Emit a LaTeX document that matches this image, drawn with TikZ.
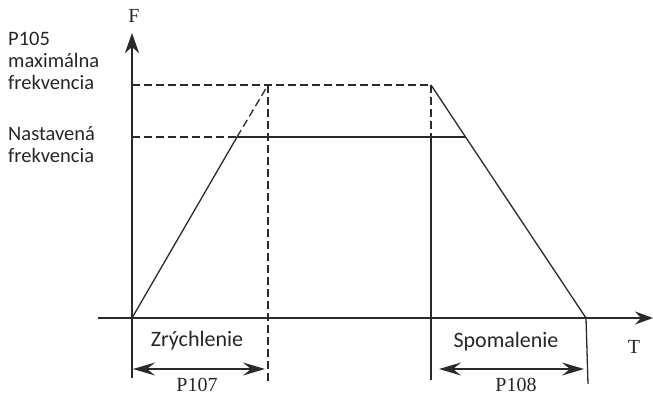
\documentclass[tikz,border=0pt]{standalone}
\usepackage{fontspec}
\setmainfont{Liberation Serif}
\newfontfamily\lblfont{Carlito}
\usetikzlibrary{arrows.meta}
\definecolor{ln}{HTML}{2A2A2A}
\tikzset{
  ax/.style={draw=ln, line width=1.5pt},
  thin/.style={draw=ln, line width=1.3pt},
  dsh/.style={draw=ln, line width=1.3pt, dash pattern=on 8pt off 4pt},
  dim/.style={draw=ln, line width=1.3pt, {Stealth[length=22pt,width=13pt,inset=8pt]}-{Stealth[length=22pt,width=13pt,inset=8pt]}},
  sl/.style={font=\lblfont\fontsize{20.5}{22}\selectfont, anchor=base west, inner sep=0pt, text=black!85},
  bl/.style={font=\lblfont\fontsize{22}{24}\selectfont, anchor=base, inner sep=0pt, text=black!85},
  sr/.style={font=\fontsize{20}{22}\selectfont, anchor=base, inner sep=0pt, text=black!85},
}
\begin{document}
\begin{tikzpicture}[x=1pt, y=-1pt]
\useasboundingbox (0,0) rectangle (653,394);
% key points
\coordinate (O) at (132,318);
\coordinate (Ybot) at (132,378);
\coordinate (Ytop) at (132,33);
\coordinate (Xl) at (98,318);
\coordinate (Xr) at (653,318);
\coordinate (M1) at (268,85);
\coordinate (M2) at (431,85);
\coordinate (Ymax) at (132,85);
\coordinate (Yset) at (132,137);
\coordinate (S1) at (237,137);
\coordinate (S2) at (466,137);
\coordinate (E) at (586,318);
\coordinate (V1b) at (268,383);
\coordinate (V2s) at (431,137);
\coordinate (V2b) at (431,380);
\coordinate (V3b) at (588,384);
\coordinate (A1l) at (133,369);
\coordinate (A1r) at (265,369);
\coordinate (A2l) at (439,369);
\coordinate (A2r) at (584,369);
% axes
\draw[ax, -{Stealth[length=20pt,width=14pt,inset=6pt]}] (Ybot) -- (Ytop);
\draw[ax, -{Stealth[length=18pt,width=13pt,inset=6pt]}] (Xl) -- (Xr);
% dashed guides
\draw[dsh] (Ymax) -- (M2);
\draw[dsh] (Yset) -- (S1);
\draw[dsh] (S1) -- (M1);
\draw[dsh] (M1) -- (V1b);
\draw[dsh] (M2) -- (V2s);
% solid profile
\draw[thin] (O) -- (S1);
\draw[thin] (S1) -- (S2);
\draw[thin] (V2s) -- (V2b);
\draw[thin] (M2) -- (E);
\draw[thin] (E) -- (V3b);
% dimension arrows
\draw[dim] (A1l) -- (A1r);
\draw[dim] (A2l) -- (A2r);
% labels
\node[sr] (F) at (134,22) {F};
\node[sr] (T) at (634,353) {T};
\node[sl] (p105a) at (8,45) {P105};
\node[sl] (p105b) at (8,67) {maximálna};
\node[sl] (p105c) at (8,89) {frekvencia};
\node[sl] (nasta) at (8,140) {Nastavená};
\node[sl] (nastb) at (8,162) {frekvencia};
\node[bl] (zr) at (197,346) {Zrýchlenie};
\node[bl] (sp) at (506,347) {Spomalenie};
\node[sr] (p107) at (197,391) {P107};
\node[sr] (p108) at (516,391) {P108};
\end{tikzpicture}
\end{document}
